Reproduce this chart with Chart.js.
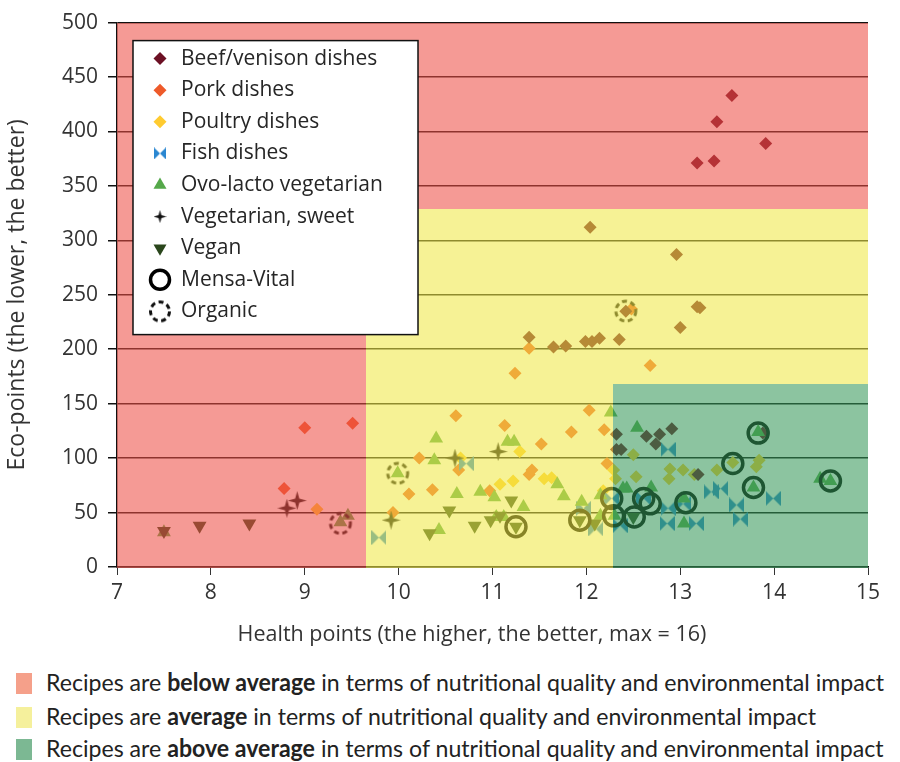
<!DOCTYPE html>
<html>
<head>
<meta charset="utf-8">
<script src="https://cdn.jsdelivr.net/npm/chart.js@4.4.0/dist/chart.umd.min.js"></script>
<style>
body { margin: 0; background: #fff; font-family: "Open Sans", sans-serif; }
#wrap { position: relative; width: 900px; height: 762px; }
#chart { position: absolute; left: 0; top: 0; }
.xtitle { position: absolute; top: 618px; left: 0; width: 944px; text-align: center; font-size: 21.5px; color: #333; }
.key { position: absolute; left: 16px; font-family: Lato, sans-serif; font-size: 24px; line-height: 28px; color: #222; white-space: nowrap; }
.key .sw { display: inline-block; width: 16px; height: 21px; vertical-align: -3px; margin-right: 14px; }
.key .tx { display: inline-block; transform-origin: 0 50%; }
</style>
</head>
<body>
<div id="wrap">
  <canvas id="chart" width="900" height="650"></canvas>
  <div class="xtitle">Health points (the higher, the better, max = 16)</div>
  <div class="key" style="top:668px"><span class="sw" style="background:#f5a08a"></span><span class="tx">Recipes are <b>below average</b> in terms of nutritional quality and environmental impact</span></div>
  <div class="key" style="top:702px"><span class="sw" style="background:#f5f09c"></span><span class="tx">Recipes are <b>average</b> in terms of nutritional quality and environmental impact</span></div>
  <div class="key" style="top:734px"><span class="sw" style="background:#7cb893"></span><span class="tx">Recipes are <b>above average</b> in terms of nutritional quality and environmental impact</span></div>
</div>
<script>
// [health points, eco-points]
var beef = [[13.55,433],[13.39,409],[13.91,389],[13.18,371],[13.36,373],
  [12.04,312],[12.96,287],[13.18,239],[13.21,238],[13.0,220],[12.42,235],[11.39,211],[11.65,202],[11.78,203],
  [11.99,207],[12.06,207],[12.14,210],[12.35,209],
  [12.32,122],[12.64,120],[12.78,122],[12.74,113],[12.91,127],[12.32,108],[12.37,108],[13.19,85],[13.88,123]];
var pork = [[8.78,72],[9.0,128],[9.51,132],
  [10.61,139],[11.13,130],[12.03,144],[10.22,100],[10.64,89],[10.11,67],[10.36,71],[9.94,50],[10.97,70],
  [11.39,85],[11.42,89],[11.52,113],[11.84,124],[12.19,126],[12.22,95],[11.39,201],[11.24,178],[12.68,185],[12.48,237]];
var poultry = [[9.13,53],[10.66,100],[11.29,106],[11.08,76],[11.22,79],[11.55,81],[11.63,82],[12.18,70],
  [12.50,103],[12.89,90],[13.03,89],[12.88,81],[12.53,83],[13.39,89],[13.56,96],[13.84,98],[13.81,92],
  [12.29,89],[12.31,81],[13.15,85]];
var fish = [[9.79,27],[10.72,95],[11.97,54],[12.10,35],[12.87,108],[13.33,69],[13.43,72],[13.60,57],[13.99,63],
  [13.64,44],[13.17,40],[12.86,40],[12.87,54],[12.61,63],[13.03,58],[12.27,63],[12.36,38]];
var ovoLacto = [[7.5,32],[9.38,41],[9.46,47],[9.99,86],[10.40,118],[10.38,98],[11.16,115],[11.23,115],[10.62,67],
  [10.87,69],[11.02,64],[11.33,55],[11.69,76],[11.76,65],[10.43,34],[11.04,46],[11.12,46],[11.95,60],[12.26,142],
  [12.15,66],[12.15,47],[12.54,128],[12.69,73],[12.39,72],[12.43,72],[13.83,124],[13.78,73],[14.49,81],[14.60,79],
  [13.04,63],[13.04,40],[12.30,47]];
var vegSweet = [[8.81,54],[8.92,61],[11.06,106],[10.60,100],[9.92,43]];
var vegan = [[7.5,33],[7.88,38],[8.41,40],[10.54,52],[10.33,31],[10.81,38],[10.98,43],[11.20,61],[11.25,37],
  [11.93,43],[12.09,40],[12.50,46],[11.08,47]];
var mensaVital = [[11.25,37],[11.93,43],[12.27,63],[12.61,63],[12.68,58],[13.06,59],[12.29,47],[12.51,46],
  [13.56,95],[13.83,123],[13.78,73],[14.60,79]];
var organic = [[9.38,40],[9.99,86],[12.42,235]];

// region thresholds
var yellowFromX = 9.65, yellowBelowY = 328.5;
var greenFromX = 12.28, greenBelowY = 168;

function pts(arr) { return arr.map(function (p) { return { x: p[0], y: p[1] }; }); }

function makeCanvas(w, h, draw) {
  var c = document.createElement('canvas');
  c.width = w; c.height = h;
  draw(c.getContext('2d'));
  return c;
}
function bowtie(s, color) {
  return makeCanvas(s, s, function (g) {
    g.fillStyle = color;
    g.beginPath();
    g.moveTo(0, 0); g.lineTo(s / 2, s / 2); g.lineTo(0, s); g.closePath();
    g.moveTo(s, 0); g.lineTo(s / 2, s / 2); g.lineTo(s, s); g.closePath();
    g.fill();
  });
}
function sparkle(s, color) {
  var c = s / 2, k = s * 0.11;
  return makeCanvas(s, s, function (g) {
    g.fillStyle = color;
    g.beginPath();
    g.moveTo(c, 0); g.lineTo(c + k, c - k); g.lineTo(s, c); g.lineTo(c + k, c + k);
    g.lineTo(c, s); g.lineTo(c - k, c + k); g.lineTo(0, c); g.lineTo(c - k, c - k);
    g.closePath(); g.fill();
  });
}
function dashedRing(s, r, lw, color) {
  return makeCanvas(s, s, function (g) {
    g.strokeStyle = color; g.lineWidth = lw;
    g.setLineDash([5, 3.6]);
    g.beginPath(); g.arc(s / 2, s / 2, r, 0, Math.PI * 2); g.stroke();
  });
}

var fishImg = bowtie(15, '#2b87d1'), fishKey = bowtie(12, '#2b87d1');
var starImg = sparkle(19, '#111'), starKey = sparkle(13, '#111');
var orgImg = dashedRing(28, 10, 3, '#111'), orgKey = dashedRing(26, 9.5, 3, '#111');

var series = [
  { label: 'Beef/venison dishes', data: beef, color: '#6c1024', style: 'rectRot', r: 6.5, key: { style: 'rectRot', r: 6.5 }, order: 5 },
  { label: 'Pork dishes', data: pork, color: '#ee5a2a', style: 'rectRot', r: 6.5, key: { style: 'rectRot', r: 6.5 }, order: 6 },
  { label: 'Poultry dishes', data: poultry, color: '#ffcb30', style: 'rectRot', r: 6.5, key: { style: 'rectRot', r: 6.5 }, order: 7 },
  { label: 'Fish dishes', data: fish, color: '#2b87d1', style: fishImg, r: 7, key: { style: fishKey, r: 6 }, order: 4 },
  { label: 'Ovo-lacto vegetarian', data: ovoLacto, color: '#55a84a', style: 'triangle', r: 8, key: { style: 'triangle', r: 7.5 }, order: 3 },
  { label: 'Vegetarian, sweet', data: vegSweet, color: '#111', style: starImg, r: 9, key: { style: starKey, r: 6 }, order: 2 },
  { label: 'Vegan', data: vegan, color: '#2a461c', style: 'triangle', rot: 180, r: 8, key: { style: 'triangle', rot: 180, r: 7.5 }, order: 2 },
  { label: 'Mensa-Vital', data: mensaVital, color: '#000', style: 'circle', ring: true, r: 10, bw: 3.5, key: { style: 'circle', r: 9.5, bw: 3.5 }, order: 1 },
  { label: 'Organic', data: organic, color: '#000', style: orgImg, r: 11, key: { style: orgKey, r: 9 }, order: 0 }
];

var overlayPlugin = {
  id: 'regions',
  afterDatasetsDraw: function (chart) {
    var ctx = chart.ctx, a = chart.chartArea, x = chart.scales.x, y = chart.scales.y;
    var L = Math.round(a.left), R = Math.round(a.right), T = Math.round(a.top), B = Math.round(a.bottom) + 1;
    var xY = Math.round(x.getPixelForValue(yellowFromX)), yY = Math.round(y.getPixelForValue(yellowBelowY));
    var xG = Math.round(x.getPixelForValue(greenFromX)), yG = Math.round(y.getPixelForValue(greenBelowY));
    ctx.save();
    ctx.fillStyle = 'rgba(237,77,68,0.57)';
    ctx.fillRect(L, T, xY - L, B - T);
    ctx.fillRect(xY, T, R - xY, yY - T);
    ctx.fillStyle = 'rgba(240,233,68,0.57)';
    ctx.fillRect(xY, yY, xG - xY, B - yY);
    ctx.fillRect(xG, yY, R - xG, yG - yY);
    ctx.fillStyle = 'rgba(53,151,88,0.57)';
    ctx.fillRect(xG, yG, R - xG, B - yG);
    ctx.restore();
  },
  afterDraw: function (chart) {
    var ctx = chart.ctx, a = chart.chartArea;
    var lx = a.left + 16, ly = a.top + 18, w = 285, h = 294;
    ctx.save();
    ctx.fillStyle = '#fff';
    ctx.fillRect(lx, ly, w, h);
    ctx.strokeStyle = '#111';
    ctx.lineWidth = 1.5;
    ctx.strokeRect(lx, ly, w, h);
    ctx.font = '21px "Open Sans", sans-serif';
    ctx.textBaseline = 'middle';
    series.forEach(function (s, i) {
      var cy = ly + 18 + i * 31.6, cx = lx + 27;
      ctx.fillStyle = s.color;
      ctx.strokeStyle = s.color;
      ctx.lineWidth = s.key.bw || 0;
      if (s.ring) {
        ctx.beginPath(); ctx.arc(cx, cy, s.key.r, 0, Math.PI * 2); ctx.stroke();
      } else {
        Chart.helpers.drawPoint(ctx, { pointStyle: s.key.style, rotation: s.key.rot || 0, radius: s.key.r, borderWidth: 0 }, cx, cy);
      }
      ctx.fillStyle = '#262626';
      ctx.fillText(s.label, lx + 48, cy);
    });
    ctx.restore();
  }
};

var ctx = document.getElementById('chart').getContext('2d');
var chart = new Chart(ctx, {
  type: 'scatter',
  data: {
    datasets: series.map(function (s) {
      return {
        label: s.label,
        data: pts(s.data),
        order: s.order,
        pointStyle: s.style,
        pointRotation: s.rot || 0,
        pointRadius: s.r,
        backgroundColor: s.ring ? 'rgba(0,0,0,0)' : s.color,
        borderColor: s.color,
        pointBorderWidth: s.bw || 0
      };
    })
  },
  options: {
    responsive: false,
    animation: false,
    events: [],
    layout: { padding: { top: 16, right: 32, left: 0, bottom: 0 } },
    plugins: { legend: { display: false }, tooltip: { enabled: false } },
    scales: {
      x: {
        type: 'linear', min: 7, max: 15,
        ticks: { stepSize: 1, color: '#333', font: { family: 'Open Sans', size: 21 }, padding: 5 },
        grid: { drawOnChartArea: false, drawTicks: true, tickLength: 8, color: '#333' },
        border: { color: '#111', width: 1.5 },
        afterFit: function (scale) { scale.height = 83; }
      },
      y: {
        min: 0, max: 500,
        ticks: { stepSize: 50, color: '#333', font: { family: 'Open Sans', size: 21 }, padding: 10 },
        grid: { color: '#111', lineWidth: 1.5, tickLength: 9 },
        border: { color: '#111', width: 1.5 },
        title: { display: true, text: 'Eco-points (the lower, the better)', color: '#333', font: { family: 'Open Sans', size: 23 }, padding: { bottom: 0 } },
        afterFit: function (scale) { scale.width = 117; }
      }
    }
  },
  plugins: [overlayPlugin]
});

// squeeze the key lines to the reference width
var keyTexts = document.querySelectorAll('.key .tx');
var keyScale = 838 / keyTexts[0].getBoundingClientRect().width;
keyTexts.forEach(function (el) { el.style.transform = 'scaleX(' + keyScale + ')'; });
</script>
</body>
</html>
